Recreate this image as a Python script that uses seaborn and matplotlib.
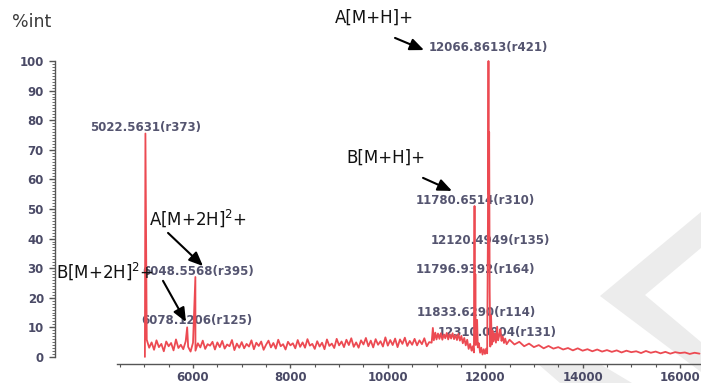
import numpy as np
import pandas as pd
import matplotlib
matplotlib.use("Agg")
import matplotlib.pyplot as plt
import seaborn as sns
from matplotlib.patches import Polygon
from matplotlib.ticker import FixedLocator

# ---------------- spectrum data ----------------
# baseline noise, 5050 .. 10850 Da every 50 Da (% intensity)
noise_start = 5050
noise_step = 50
noise_int = [
    5.8, 3.1, 4.9, 2.4, 5.6, 3.3, 4.4, 1.9, 5.2, 3.6,
    4.7, 2.2, 5.9, 3.0, 4.1, 2.6, 5.3, 3.4, 1.8, 4.8,
    2.1, 4.6, 3.2, 5.5, 2.7, 4.3, 3.8, 5.1, 2.5, 4.9,
    3.3, 5.4, 2.8, 4.2, 3.6, 5.7, 2.3, 4.5, 3.1, 5.0,
    2.9, 4.4, 3.5, 5.6, 2.6, 4.8, 3.7, 5.2, 2.4, 4.1,
    5.5, 3.2, 4.7, 2.8, 5.8, 3.6, 4.3, 2.5, 5.1, 3.9,
    4.6, 2.9, 5.7, 3.4, 4.9, 3.1, 6.0, 3.8, 4.4, 2.7,
    5.3, 3.5, 4.8, 2.6, 5.9, 3.7, 4.5, 3.0, 6.1, 3.9,
    5.2, 3.3, 5.8, 4.0, 6.3, 3.4, 4.9, 3.1, 5.6, 4.2,
    6.4, 3.6, 5.5, 3.2, 6.0, 4.1, 5.3, 3.5, 6.6, 3.8,
    5.7, 4.0, 6.2, 3.3, 5.9, 4.4, 6.5, 3.7, 5.4, 4.1,
    6.1, 3.9, 5.6, 4.3, 6.3, 3.6, 5.0,
]

# low-mass peaks
low_mz = [5012.0, 5022.5631, 5880.0, 6048.5568]
low_int = [0.0, 75.5, 10.0, 27.0]

# molecular-ion cluster region
cluster_mz = [
    10900, 10925, 10945, 10975, 11000, 11030, 11060, 11090, 11120, 11150,
    11180, 11210, 11240, 11270, 11300, 11330, 11360, 11390, 11420, 11450,
    11480, 11510, 11540, 11570, 11600, 11630, 11660, 11690, 11720, 11745,
    11768, 11780.6514, 11789, 11796.9392, 11806, 11820, 11833.6290, 11848, 11870, 11895,
    11920, 11945, 11970, 11995, 12020, 12040, 12054, 12066.8613, 12073, 12081,
    12092, 12104, 12120.4949, 12134, 12150, 12170, 12195, 12220, 12245, 12265,
    12290, 12310.0904, 12335, 12360, 12385, 12410, 12440,
]
cluster_int = [
    4.8, 9.8, 5.6, 8.2, 5.9, 7.9, 6.1, 8.0, 5.8, 7.6,
    6.3, 8.1, 5.9, 7.7, 6.2, 8.0, 6.0, 7.4, 5.7, 7.8,
    5.5, 7.1, 4.6, 6.4, 3.9, 5.8, 2.7, 4.4, 2.1, 3.6,
    1.5, 51.0, 6.5, 28.0, 4.0, 5.5, 12.5, 3.2, 4.6, 1.4,
    3.1, 0.8, 2.6, 1.0, 2.8, 1.2, 38.0, 100.0, 55.0, 76.0,
    22.0, 3.5, 14.0, 4.2, 8.8, 5.2, 7.9, 4.8, 10.2, 5.6,
    7.4, 9.3, 5.4, 6.9, 4.7, 6.2, 4.3,
]

# high-mass tail, 12500 .. 16400 Da every 100 Da
tail_start = 12500
tail_step = 100
tail_int = [
    5.8, 4.2, 5.1, 3.6, 4.5, 3.3, 4.0, 2.9, 3.7, 2.8,
    3.3, 2.5, 3.0, 2.2, 2.9, 2.1, 2.6, 1.9, 2.5, 1.8,
    2.3, 1.7, 2.2, 1.5, 2.1, 1.6, 1.9, 1.3, 2.0, 1.4,
    1.8, 1.2, 1.7, 1.1, 1.6, 1.3, 1.5, 1.0, 1.4, 1.1,
]

# peak labels: text, anchor m/z, anchor intensity
peak_labels = [
    "5022.5631(r373)", "6048.5568(r395)", "6078.1206(r125)",
    "12066.8613(r421)", "11780.6514(r310)", "12120.4949(r135)",
    "11796.9392(r164)", "11833.6290(r114)", "12310.0904(r131)",
]
label_x = [5022, 6103, 6082, 12058, 11790, 12099, 11790, 11811, 12242]
label_y = [77.4, 28.7, 12.2, 104.4, 53.0, 39.2, 29.4, 14.9, 8.1]

# ion assignments with arrows (text pos, arrow tail, arrow head)
ion_names = ["A[M+H]+", "B[M+H]+", "A[M+2H]$^{2}$+", "B[M+2H]$^{2}$+"]
ion_text_xy = [(9717, 114.5), (9963, 67.2), (6103, 47.0), (4200, 29.1)]
ion_tail_xy = [(10148, 107.8), (10723, 60.5), (5487, 41.9), (5384, 25.7)]
ion_head_xy = [(10743, 103.7), (11318, 56.1), (6205, 30.7), (5856, 11.8)]

x_ticks = [6000, 8000, 10000, 12000, 14000, 16000]
y_ticks = [0, 10, 20, 30, 40, 50, 60, 70, 80, 90, 100]

# ---------------- assemble trace ----------------
noise_mz = noise_start + noise_step * np.arange(len(noise_int))
tail_mz = tail_start + tail_step * np.arange(len(tail_int))
spectrum = pd.DataFrame({
    "mz": np.concatenate([low_mz, noise_mz, cluster_mz, tail_mz]),
    "intensity": np.concatenate([low_int, noise_int, cluster_int, tail_int]),
}).sort_values("mz")

# ---------------- figure ----------------
sns.set_theme(style="white")
plt.rcParams["font.family"] = ["DejaVu Sans"]

W, H = 701, 383
fig = plt.figure(figsize=(W / 100, H / 100), dpi=100)
fig.patch.set_facecolor("white")
ax = fig.add_axes([55 / W, 19 / H, 646 / W, 324 / H])
ax.set_facecolor("none")


def fpx(x, y):
    return (x / W, 1 - y / H)


# faint background emblem
for pts in (
    [(701, 212), (600, 296), (701, 372), (701, 342), (645, 295), (701, 248)],
    [(538, 364), (600, 364), (632, 383), (560, 383)],
):
    fig.patches.append(Polygon([fpx(*p) for p in pts], closed=True,
                               transform=fig.transFigure, facecolor="#ececec",
                               edgecolor="none", zorder=-5))

sns.lineplot(data=spectrum, x="mz", y="intensity", ax=ax, color="#ec4a52",
             linewidth=1.3, estimator=None, sort=True, zorder=3)

ax.set_xlim(3166, 16431)
ax.set_ylim(-2.4, 107.1)
ax.set_xlabel("")
ax.set_ylabel("")

for side in ("top", "right"):
    ax.spines[side].set_visible(False)
for side in ("left", "bottom"):
    ax.spines[side].set_color("#555555")
    ax.spines[side].set_linewidth(1.0)
ax.spines["left"].set_bounds(0, 100)
ax.spines["bottom"].set_bounds(4440, 16431)

ax.xaxis.set_major_locator(FixedLocator(x_ticks))
ax.xaxis.set_minor_locator(FixedLocator(np.arange(4500, 16500, 500)))
ax.yaxis.set_major_locator(FixedLocator(y_ticks))
ax.yaxis.set_minor_locator(FixedLocator(np.arange(0, 101, 1)))
ax.tick_params(axis="both", which="both", direction="out", color="#555555",
               labelcolor="#4a4a66", labelsize=8.5)
ax.tick_params(axis="x", which="major", length=3, width=1, pad=2)
ax.tick_params(axis="x", which="minor", length=2, width=0.8)
ax.tick_params(axis="y", which="major", length=4, width=1, pad=4)
ax.tick_params(axis="y", which="minor", length=2, width=0.6)
ax.tick_params(bottom=True, left=True, which="both")
for lab in ax.get_xticklabels() + ax.get_yticklabels():
    lab.set_fontweight("bold")
ax.grid(False)

fig.text(12 / W, 1 - 22 / H, "%int", ha="left", va="center",
         fontsize=12.5, color="#3a3a3a")

for txt, lx, ly in zip(peak_labels, label_x, label_y):
    ax.text(lx, ly, txt, ha="center", va="center", fontsize=8.5,
            fontweight="bold", color="#555570", zorder=2, clip_on=False)

for name, (tx, ty), tail, head in zip(ion_names, ion_text_xy, ion_tail_xy, ion_head_xy):
    ax.text(tx, ty, name, ha="center", va="center", fontsize=12,
            color="#111111", zorder=5, clip_on=False)
    ax.annotate("", xy=head, xytext=tail,
                arrowprops=dict(arrowstyle="-|>,head_length=0.7,head_width=0.3",
                                color="black", lw=1.5, shrinkA=0, shrinkB=0),
                zorder=6, annotation_clip=False)

fig.savefig("out.png", dpi=100)
